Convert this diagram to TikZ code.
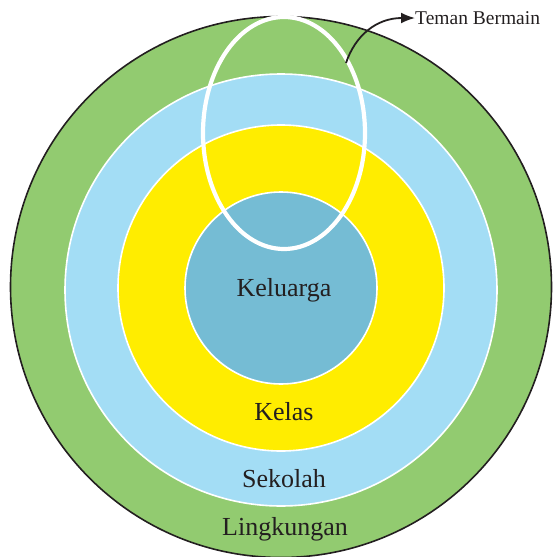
\documentclass[tikz,border=0pt]{standalone}
\usepackage{fontspec}
\setmainfont{Liberation Serif}
\usetikzlibrary{shapes.geometric,arrows.meta}
\definecolor{ring1}{HTML}{92CB70}
\definecolor{ring2}{HTML}{A3DDF5}
\definecolor{ring3}{HTML}{FFED00}
\definecolor{ring4}{HTML}{75BCD4}
\definecolor{ink}{HTML}{231F20}
\begin{document}
\begin{tikzpicture}[x=1pt,y=-1pt,
  ring/.style={circle, inner sep=0pt, draw=white, line width=1.6pt},
  lbl/.style={text=ink, font=\fontsize{26}{30}\selectfont, inner sep=0pt}]
\useasboundingbox (0,0) rectangle (552,557);
\node[ring, draw=ink, line width=1.6pt, fill=ring1, minimum size=541pt] (lingk) at (281,287) {};
\node[ring, fill=ring2, minimum size=432pt] (sekolah) at (281,290) {};
\node[ring, fill=ring3, minimum size=326pt] (kelas) at (281,288) {};
\node[ring, fill=ring4, minimum size=192pt] (keluarga) at (281,288) {};
\node[ellipse, draw=white, line width=4.2pt, minimum width=162pt, minimum height=232pt, inner sep=0pt] (teman) at (284,133) {};
\node[lbl] (tkeluarga) at (284,290) {Keluarga};
\node[lbl] (tkelas) at (284,412) {Kelas};
\node[lbl] (tsekolah) at (284,479) {Sekolah};
\node[lbl] (tlingk) at (285,529) {Lingkungan};
\node[text=ink, font=\fontsize{19.5}{22}\selectfont, inner sep=0pt, anchor=west] (tteman) at (415,18) {Teman Bermain};
\coordinate (s) at (346,63);
\draw[ink, line width=1.8pt, -{Latex[length=14pt,width=11pt]}] (s) .. controls (355,36) and (376,18) .. (tteman.west);
\end{tikzpicture}
\end{document}
